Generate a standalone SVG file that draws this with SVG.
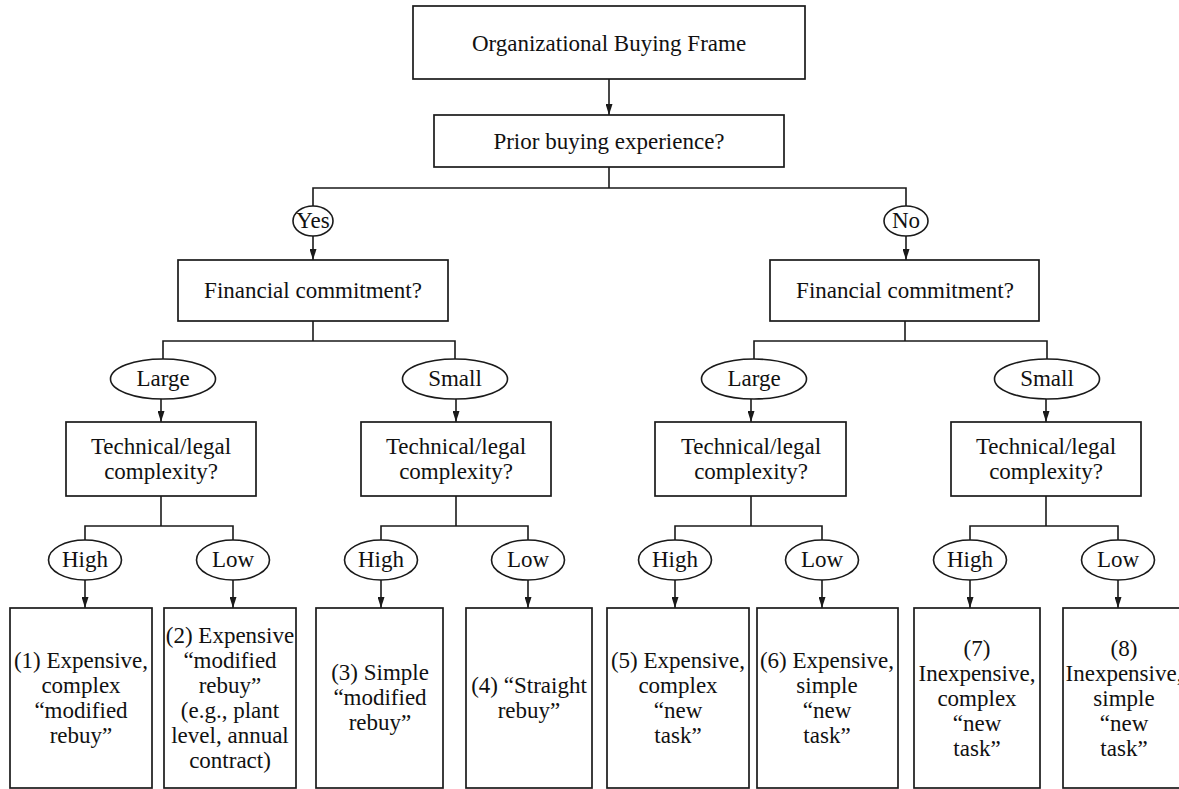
<svg xmlns="http://www.w3.org/2000/svg" width="1179" height="789" viewBox="0 0 1179 789">
  <style>
    .box { fill: #fff; stroke: #1a1a1a; stroke-width: 1.7; }
    .oval { fill: #fff; stroke: #1a1a1a; stroke-width: 1.6; }
    .wire { fill: none; stroke: #1a1a1a; stroke-width: 1.6; }
    .lbl { font-family: "Liberation Serif", "Times New Roman", serif; font-size: 23px; fill: #111; text-anchor: middle; }
  </style>
  <defs>
    <marker id="tip" markerUnits="userSpaceOnUse" markerWidth="11" markerHeight="7" refX="11" refY="3.5" orient="auto">
      <path d="M0,0 L11,3.5 L0,7 Z" fill="#1a1a1a"/>
    </marker>
  </defs>

  <!-- connectors -->
  <g id="connectors">
    <!-- root to first question -->
    <line class="wire" x1="609" y1="79" x2="609" y2="115" marker-end="url(#tip)"/>
    <!-- prior experience split -->
    <polyline class="wire" points="609,167 609,188"/>
    <polyline class="wire" points="313,206 313,188 906,188 906,206"/>
    <line class="wire" x1="313" y1="236" x2="313" y2="260" marker-end="url(#tip)"/>
    <line class="wire" x1="906" y1="236" x2="906" y2="260" marker-end="url(#tip)"/>
    <!-- financial commitment splits -->
    <polyline class="wire" points="313,321 313,341"/>
    <polyline class="wire" points="163,359 163,341 455,341 455,359"/>
    <polyline class="wire" points="905,321 905,341"/>
    <polyline class="wire" points="754,359 754,341 1047,341 1047,359"/>
    <line class="wire" x1="161" y1="399" x2="161" y2="422" marker-end="url(#tip)"/>
    <line class="wire" x1="456" y1="399" x2="456" y2="422" marker-end="url(#tip)"/>
    <line class="wire" x1="751" y1="399" x2="751" y2="422" marker-end="url(#tip)"/>
    <line class="wire" x1="1046" y1="399" x2="1046" y2="422" marker-end="url(#tip)"/>
    <!-- complexity splits -->
    <polyline class="wire" points="161,496 161,526"/>
    <polyline class="wire" points="85,540 85,526 233,526 233,540"/>
    <polyline class="wire" points="456,496 456,526"/>
    <polyline class="wire" points="381,540 381,526 528,526 528,540"/>
    <polyline class="wire" points="751,496 751,526"/>
    <polyline class="wire" points="675,540 675,526 822,526 822,540"/>
    <polyline class="wire" points="1046,496 1046,526"/>
    <polyline class="wire" points="970,540 970,526 1118,526 1118,540"/>
    <line class="wire" x1="85" y1="580" x2="85" y2="608" marker-end="url(#tip)"/>
    <line class="wire" x1="233" y1="580" x2="233" y2="608" marker-end="url(#tip)"/>
    <line class="wire" x1="381" y1="580" x2="381" y2="608" marker-end="url(#tip)"/>
    <line class="wire" x1="528" y1="580" x2="528" y2="608" marker-end="url(#tip)"/>
    <line class="wire" x1="675" y1="580" x2="675" y2="608" marker-end="url(#tip)"/>
    <line class="wire" x1="822" y1="580" x2="822" y2="608" marker-end="url(#tip)"/>
    <line class="wire" x1="970" y1="580" x2="970" y2="608" marker-end="url(#tip)"/>
    <line class="wire" x1="1118" y1="580" x2="1118" y2="608" marker-end="url(#tip)"/>
  </g>

  <!-- question boxes -->
  <g id="frame">
    <rect class="box" x="413" y="6" width="392" height="73"/>
    <text class="lbl" x="609" y="51">Organizational Buying Frame</text>
  </g>
  <g id="prior">
    <rect class="box" x="434" y="115" width="350" height="52"/>
    <text class="lbl" x="609" y="149">Prior buying experience?</text>
  </g>

  <g id="yes">
    <ellipse class="oval" cx="313" cy="221" rx="20" ry="15"/>
    <text class="lbl" x="313" y="228">Yes</text>
  </g>
  <g id="no">
    <ellipse class="oval" cx="906" cy="221" rx="22" ry="15"/>
    <text class="lbl" x="906" y="228">No</text>
  </g>

  <g id="fin-yes">
    <rect class="box" x="178" y="260" width="270" height="61"/>
    <text class="lbl" x="313" y="298">Financial commitment?</text>
  </g>
  <g id="fin-no">
    <rect class="box" x="770" y="260" width="269" height="61"/>
    <text class="lbl" x="905" y="298">Financial commitment?</text>
  </g>

  <!-- size of commitment -->
  <g id="large-yes">
    <ellipse class="oval" cx="163" cy="379" rx="52.5" ry="20"/>
    <text class="lbl" x="163" y="386">Large</text>
  </g>
  <g id="small-yes">
    <ellipse class="oval" cx="455" cy="379" rx="52.5" ry="20"/>
    <text class="lbl" x="455" y="386">Small</text>
  </g>
  <g id="large-no">
    <ellipse class="oval" cx="754" cy="379" rx="52.5" ry="20"/>
    <text class="lbl" x="754" y="386">Large</text>
  </g>
  <g id="small-no">
    <ellipse class="oval" cx="1047" cy="379" rx="52.5" ry="20"/>
    <text class="lbl" x="1047" y="386">Small</text>
  </g>

  <!-- complexity questions -->
  <g id="tech-1">
    <rect class="box" x="66" y="422" width="190" height="74"/>
    <text class="lbl" x="161" y="454">Technical/legal<tspan x="161" dy="25">complexity?</tspan></text>
  </g>
  <g id="tech-2">
    <rect class="box" x="361" y="422" width="190" height="74"/>
    <text class="lbl" x="456" y="454">Technical/legal<tspan x="456" dy="25">complexity?</tspan></text>
  </g>
  <g id="tech-3">
    <rect class="box" x="655" y="422" width="191" height="74"/>
    <text class="lbl" x="751" y="454">Technical/legal<tspan x="751" dy="25">complexity?</tspan></text>
  </g>
  <g id="tech-4">
    <rect class="box" x="951" y="422" width="190" height="74"/>
    <text class="lbl" x="1046" y="454">Technical/legal<tspan x="1046" dy="25">complexity?</tspan></text>
  </g>

  <!-- high / low -->
  <g id="high-1"><ellipse class="oval" cx="85" cy="560" rx="36.5" ry="20"/><text class="lbl" x="85" y="567">High</text></g>
  <g id="low-1"><ellipse class="oval" cx="233" cy="560" rx="36.5" ry="20"/><text class="lbl" x="233" y="567">Low</text></g>
  <g id="high-2"><ellipse class="oval" cx="381" cy="560" rx="36.5" ry="20"/><text class="lbl" x="381" y="567">High</text></g>
  <g id="low-2"><ellipse class="oval" cx="528" cy="560" rx="36.5" ry="20"/><text class="lbl" x="528" y="567">Low</text></g>
  <g id="high-3"><ellipse class="oval" cx="675" cy="560" rx="36.5" ry="20"/><text class="lbl" x="675" y="567">High</text></g>
  <g id="low-3"><ellipse class="oval" cx="822" cy="560" rx="36.5" ry="20"/><text class="lbl" x="822" y="567">Low</text></g>
  <g id="high-4"><ellipse class="oval" cx="970" cy="560" rx="36.5" ry="20"/><text class="lbl" x="970" y="567">High</text></g>
  <g id="low-4"><ellipse class="oval" cx="1118" cy="560" rx="36.5" ry="20"/><text class="lbl" x="1118" y="567">Low</text></g>

  <!-- buying situations -->
  <g id="case-1">
    <rect class="box" x="10" y="608" width="142" height="180"/>
    <text class="lbl" x="81" y="668">(1) Expensive,<tspan x="81" dy="25">complex</tspan><tspan x="81" dy="25">“modified</tspan><tspan x="81" dy="25">rebuy”</tspan></text>
  </g>
  <g id="case-2">
    <rect class="box" x="164" y="608" width="132" height="180"/>
    <text class="lbl" x="230" y="643">(2) Expensive<tspan x="230" dy="25">“modified</tspan><tspan x="230" dy="25">rebuy”</tspan><tspan x="230" dy="25">(e.g., plant</tspan><tspan x="230" dy="25">level, annual</tspan><tspan x="230" dy="25">contract)</tspan></text>
  </g>
  <g id="case-3">
    <rect class="box" x="316" y="608" width="127" height="180"/>
    <text class="lbl" x="380" y="680">(3) Simple<tspan x="380" dy="25">“modified</tspan><tspan x="380" dy="25">rebuy”</tspan></text>
  </g>
  <g id="case-4">
    <rect class="box" x="466" y="608" width="126" height="180"/>
    <text class="lbl" x="529" y="693">(4) “Straight<tspan x="529" dy="25">rebuy”</tspan></text>
  </g>
  <g id="case-5">
    <rect class="box" x="607" y="608" width="142" height="180"/>
    <text class="lbl" x="678" y="668">(5) Expensive,<tspan x="678" dy="25">complex</tspan><tspan x="678" dy="25">“new</tspan><tspan x="678" dy="25">task”</tspan></text>
  </g>
  <g id="case-6">
    <rect class="box" x="757" y="608" width="141" height="180"/>
    <text class="lbl" x="827" y="668">(6) Expensive,<tspan x="827" dy="25">simple</tspan><tspan x="827" dy="25">“new</tspan><tspan x="827" dy="25">task”</tspan></text>
  </g>
  <g id="case-7">
    <rect class="box" x="914" y="608" width="126" height="180"/>
    <text class="lbl" x="977" y="656">(7)<tspan x="977" dy="25">Inexpensive,</tspan><tspan x="977" dy="25">complex</tspan><tspan x="977" dy="25">“new</tspan><tspan x="977" dy="25">task”</tspan></text>
  </g>
  <g id="case-8">
    <rect class="box" x="1063" y="608" width="128" height="180"/>
    <text class="lbl" x="1124" y="656">(8)<tspan x="1124" dy="25">Inexpensive,</tspan><tspan x="1124" dy="25">simple</tspan><tspan x="1124" dy="25">“new</tspan><tspan x="1124" dy="25">task”</tspan></text>
  </g>
</svg>
